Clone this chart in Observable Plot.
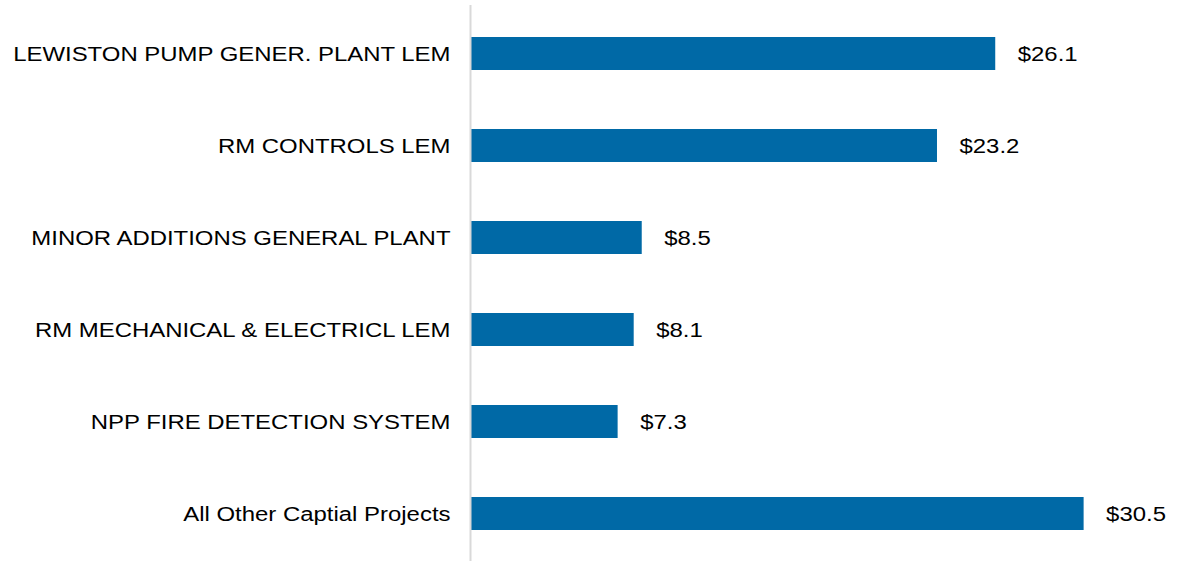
<!DOCTYPE html>
<html>
<head>
<meta charset="utf-8">
<script src="https://cdn.jsdelivr.net/npm/d3@7"></script>
<script src="https://cdn.jsdelivr.net/npm/@observablehq/plot@0.6"></script>
<style>
  html, body { margin: 0; padding: 0; background: #fff; }
</style>
</head>
<body>
<div id="chart"></div>
<script>
const categories = [
  "LEWISTON PUMP GENER. PLANT LEM",
  "RM CONTROLS LEM",
  "MINOR ADDITIONS GENERAL PLANT",
  "RM MECHANICAL & ELECTRICL LEM",
  "NPP FIRE DETECTION SYSTEM",
  "All Other Captial Projects"
];
const values = [26.1, 23.2, 8.5, 8.1, 7.3, 30.5];
const valueLabels = ["$26.1", "$23.2", "$8.5", "$8.1", "$7.3", "$30.5"];

const data = categories.map((c, i) => ({category: c, value: values[i], label: valueLabels[i]}));

const chart = Plot.plot({
  width: 1181,
  height: 561,
  marginLeft: 471,
  marginRight: 7,
  marginTop: 5,
  marginBottom: 0,
  style: {fontFamily: "'Liberation Sans', Arial, sans-serif", fontSize: "21px", color: "#000", background: "#fff"},
  x: {domain: [0, 35], axis: null},
  y: {domain: categories, paddingInner: 0.645, paddingOuter: 0.3225, label: null},
  marks: [
    Plot.barX(data, {x: "value", y: "category", fill: "#0069a6"}),
    Plot.ruleX([0], {stroke: "#d9d9d9", strokeWidth: 2, dx: -1}),
    Plot.text(data, {x: "value", y: "category", text: "label", textAnchor: "start", dx: 22, fill: "#000", fontSize: 21}),
    Plot.axisY({tickSize: 0, tickPadding: 21, fontSize: 21, label: null, fill: "#000"})
  ]
});

chart.querySelectorAll("text").forEach(t => {
  const tr = t.getAttribute("transform") || "";
  t.setAttribute("transform", tr + " scale(1.14,1)");
});

document.getElementById("chart").appendChild(chart);
</script>
</body>
</html>
